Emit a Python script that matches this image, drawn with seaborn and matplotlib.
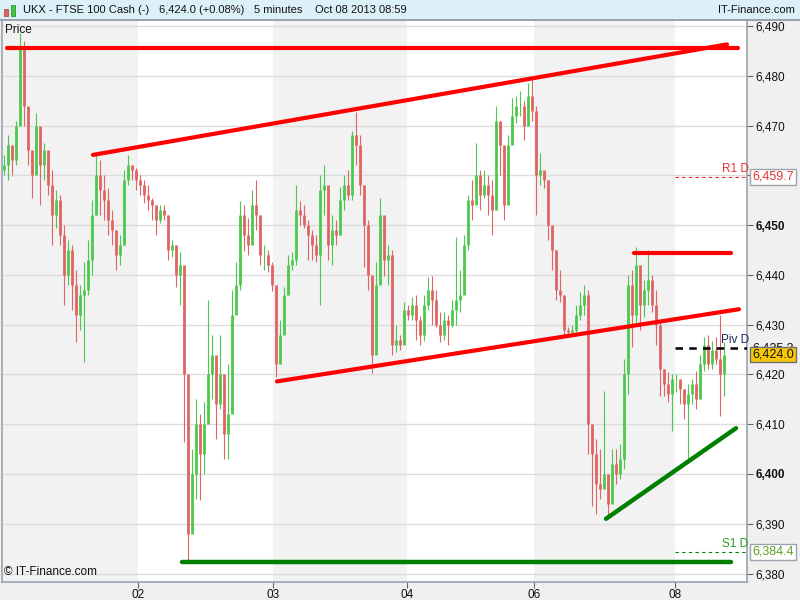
import pandas as pd
import seaborn as sns
import matplotlib.pyplot as plt
from matplotlib.patches import Rectangle

# 5-minute bars, values (roughly one bar per 4 px)
close = [6462, 6466, 6463, 6470, 6486, 6474, 6465, 6460, 6470, 6462,
         6465, 6458, 6452, 6455, 6448, 6440, 6445, 6438, 6432, 6436,
         6437, 6443, 6452, 6460, 6457, 6455, 6451, 6449, 6444, 6446,
         6459, 6462, 6461, 6459, 6458, 6456, 6455, 6454, 6451, 6453,
         6452, 6445, 6446, 6440, 6442, 6420, 6388, 6400, 6410, 6404,
         6410, 6420, 6424, 6414, 6420, 6408, 6412, 6432, 6438, 6452,
         6448, 6446, 6454, 6452, 6444, 6444, 6442, 6438, 6422, 6428,
         6436, 6442, 6443, 6453, 6452, 6450, 6448, 6446, 6444, 6457,
         6458, 6446, 6449, 6448, 6455, 6458, 6456, 6468, 6466, 6458,
         6450, 6440, 6424, 6438, 6452, 6443, 6444, 6426, 6427, 6426,
         6433, 6432, 6434, 6431, 6428, 6434, 6437, 6435, 6430, 6428,
         6431, 6430, 6433, 6435, 6436, 6446, 6455, 6454, 6460, 6456,
         6458, 6456, 6453, 6471, 6466, 6454, 6466, 6472, 6474, 6474,
         6470, 6476, 6473, 6460, 6461, 6459, 6450, 6445, 6437, 6436,
         6429, 6428.5, 6429, 6432, 6434, 6436, 6410, 6404, 6398, 6397,
         6400, 6394, 6402, 6400, 6403, 6420, 6438, 6432, 6442, 6434,
         6437, 6439, 6434, 6430, 6421, 6418, 6416, 6419, 6419, 6417,
         6414, 6416, 6418, 6415, 6422, 6426, 6422, 6425, 6423, 6420,
         6424]
high = [6464, 6468, 6466, 6471, 6488.5, 6487, 6471, 6464, 6472.5, 6466,
        6466.5, 6464, 6461, 6457, 6456, 6450, 6447, 6446, 6441, 6438,
        6442.5, 6447, 6455, 6464.5, 6463, 6460, 6457.5, 6453, 6449, 6448,
        6461, 6464, 6462, 6461.5, 6460, 6459, 6458, 6455.5, 6454, 6454,
        6454, 6452, 6447, 6444, 6444.5, 6437, 6408, 6405, 6415, 6412,
        6414.5, 6435, 6428, 6422, 6428, 6418, 6422, 6437, 6442.5, 6454.8,
        6454, 6451.5, 6457, 6459, 6452, 6446, 6445, 6442.5, 6436, 6431,
        6437.5, 6444, 6444.5, 6458, 6454.8, 6454, 6451, 6449, 6448, 6460,
        6462, 6455, 6452, 6451, 6457.6, 6460, 6461, 6469, 6472.7, 6468,
        6458, 6451, 6438, 6442.5, 6455.5, 6448, 6446, 6445, 6430, 6428,
        6434.5, 6434, 6435.5, 6436, 6431.8, 6436, 6439.5, 6439.7, 6437, 6432.5,
        6432.5, 6432, 6435, 6447.6, 6441, 6448, 6456, 6459, 6466.5, 6461,
        6461, 6460, 6459, 6474, 6471, 6462, 6468, 6475.6, 6476, 6477,
        6475, 6478.5, 6479.6, 6474, 6464.5, 6460.5, 6459, 6448, 6445, 6441,
        6436, 6429.6, 6430, 6434, 6436.5, 6438, 6437, 6410, 6407, 6405,
        6416.7, 6400, 6405, 6405, 6406, 6423, 6440, 6441, 6445.5, 6440,
        6439, 6445, 6440, 6437, 6431, 6421, 6420.5, 6420, 6420, 6419,
        6417, 6418, 6419, 6420.6, 6424, 6427.5, 6428, 6426.7, 6427.5, 6432,
        6426.5]
low = [6460, 6459, 6460, 6462, 6474, 6470, 6462, 6455.5, 6462, 6454,
       6459, 6456, 6446, 6449.5, 6446, 6434, 6438, 6433, 6426.5, 6429,
       6422.5, 6436, 6440, 6452, 6452, 6451, 6448, 6446, 6441, 6442,
       6446, 6458, 6459, 6457, 6456, 6454.5, 6453, 6451, 6448, 6450.5,
       6451, 6443, 6443.5, 6437.5, 6434, 6406.5, 6382.7, 6392, 6395, 6394.7,
       6400, 6412, 6415, 6407, 6413, 6403, 6403, 6422, 6434, 6437,
       6444.7, 6444, 6449, 6449, 6442, 6441, 6440.5, 6436.8, 6419.5, 6423,
       6430, 6436, 6441, 6442, 6450, 6449.5, 6443, 6443, 6442.5, 6434,
       6452, 6443, 6442, 6446, 6448, 6453, 6455, 6455, 6462, 6456,
       6441.5, 6437, 6420.3, 6428, 6440, 6439.7, 6438, 6423.9, 6424.6, 6425,
       6429, 6431, 6431, 6427, 6426, 6426.7, 6433, 6430, 6429.5, 6426.5,
       6427, 6426, 6429.6, 6430, 6432.5, 6440, 6445, 6451, 6456, 6453,
       6455.5, 6452, 6448, 6453, 6460, 6451, 6456, 6470, 6470.6, 6472,
       6467, 6472.7, 6471, 6452, 6458, 6457.5, 6447, 6441, 6435, 6434.5,
       6428, 6428, 6428, 6428.5, 6431, 6432, 6404, 6393.5, 6392, 6395,
       6398, 6391.5, 6396, 6398, 6399, 6401, 6416, 6425.5, 6430, 6429,
       6431.5, 6434, 6432.5, 6426, 6415.6, 6415.6, 6414.5, 6408.6, 6416.5, 6414,
       6411, 6403, 6414, 6413, 6415, 6420.6, 6421, 6421, 6422, 6411.6,
       6415.6]
first_open = 6461

day_labels = ["02", "03", "04", "06", "08"]
day_starts = [33.5, 67.25, 100.75, 132.5, 167.75]   # bar index where each day starts

# hand-drawn lines: (bar start, bar end, price start, price end)
red_top = [0.75, 183.5, 6485.5, 6485.5]
red_upper = [22.25, 180.75, 6464.1, 6486.3]
red_lower = [68.25, 183.75, 6418.6, 6433.1]
red_short = [157.5, 181.75, 6444.3, 6444.3]
green_bottom = [44.5, 181.75, 6382.3, 6382.3]
green_rising = [150.5, 183.0, 6391.0, 6409.2]

r1 = 6459.7
piv = 6425.3
s1 = 6384.4
last_price = 6424.0

sns.set_style("white")
plt.rcParams["font.family"] = ["Liberation Sans", "DejaVu Sans"]

df = pd.DataFrame({"close": close, "high": high, "low": low})
df["open"] = df["close"].shift(1).fillna(first_open)
df["bar"] = range(len(df))
up = df["close"] >= df["open"]

fig = plt.figure(figsize=(8, 6), dpi=100, facecolor="#f0f0f0")
ax = fig.add_axes([2 / 800, 18 / 600, 745 / 800, 562 / 600])
ax.set_facecolor("white")

# alternating day shading
ax.axvspan(-0.5, day_starts[0], color="#f2f2f2", zorder=0, lw=0)
ax.axvspan(day_starts[1], day_starts[2], color="#f2f2f2", zorder=0, lw=0)
ax.axvspan(day_starts[3], day_starts[4], color="#f2f2f2", zorder=0, lw=0)

green = "#4cc94c"
red = "#df6464"
for mask, col in [(up, green), (~up, red)]:
    d = df[mask]
    ax.vlines(d["bar"], d["low"], d["high"], color=col, lw=0.8, zorder=2)
    ax.vlines(d["bar"], d[["open", "close"]].min(axis=1),
              d[["open", "close"]].max(axis=1), color=col, lw=2.0, zorder=2)

def draw(line, color, lw):
    sns.lineplot(x=line[:2], y=line[2:], ax=ax, color=color, lw=lw, zorder=4)

draw(red_top, "#ff0000", 3)
draw(red_upper, "#ff0000", 3)
draw(red_lower, "#ff0000", 3)
draw(red_short, "#ff0000", 3)
draw(green_bottom, "#008000", 3.2)
draw(green_rising, "#008000", 3.2)

xmax = 185.75
ax.hlines(r1, day_starts[4], xmax, color="#ff2020", lw=0.8, ls=(0, (3, 3)), zorder=3)
ax.hlines(s1, day_starts[4], xmax, color="#008000", lw=0.8, ls=(0, (3, 3)), zorder=3)
ax.hlines(piv, day_starts[4], xmax, color="black", lw=1.8, ls=(0, (3, 2.5)), zorder=3)
ax.text(179.6, r1 + 0.4, "R1 D", color="#e83030", fontsize=8.5, va="bottom", zorder=5)
ax.text(179.6, s1 + 0.4, "S1 D", color="#2a9a2a", fontsize=8.5, va="bottom", zorder=5)
ax.text(179.3, piv + 0.4, "Piv D", color="#1c2a5a", fontsize=8.5, va="bottom", zorder=5)

ax.set_xlim(-0.5, xmax)
ax.set_ylim(6378.3, 6491.2)

ax.yaxis.tick_right()
ticks = list(range(6380, 6491, 10))
ax.set_yticks(ticks)
# the 6,460 label sits under the R1 price box
ax.set_yticklabels(["" if t == 6460 else f"{t:,}" for t in ticks])
for lab, t in zip(ax.get_yticklabels(), ticks):
    if t in (6400, 6450):
        lab.set_fontweight("bold")
ax.tick_params(axis="y", right=True, length=4, width=0.8, color="#666666",
               labelsize=8.5, pad=2, labelcolor="#111111")
ax.yaxis.grid(True, color="#dcdcdc", lw=1)
ax.set_axisbelow(True)

ax.set_xticks(day_starts)
ax.set_xticklabels(day_labels)
ax.tick_params(axis="x", bottom=True, length=4, width=0.8, color="#666666",
               labelsize=8.5, pad=1, labelcolor="#111111")

for side in ["left", "right", "bottom"]:
    ax.spines[side].set_color("#9aa4ae")
    ax.spines[side].set_linewidth(1.2)
ax.spines["top"].set_visible(False)

ax.text(0.004, 0.992, "Price", transform=ax.transAxes, fontsize=8.5, va="top", color="#111111")
ax.text(0.003, 0.008, "© IT-Finance.com", transform=ax.transAxes, fontsize=8.5,
        va="bottom", color="#111111")

# price labels on the right axis
box = dict(boxstyle="square,pad=0.15", fc="white", ec="#9aa4ae", lw=1)
ax.text(xmax + 1.3, r1, f"{r1:,.1f}", color="#e83030", fontsize=9, va="center",
        bbox=box, clip_on=False)
ax.text(xmax + 1.3, s1, f"{s1:,.1f}", color="#5aa020", fontsize=9, va="center",
        bbox=box, clip_on=False)
ax.text(xmax + 1.3, piv, f"{piv:,.1f}", color="#111111", fontsize=9, va="center",
        clip_on=False)
ax.text(xmax + 1.3, last_price, f"{last_price:,.1f}", color="#111111", fontsize=9,
        va="center", clip_on=False,
        bbox=dict(boxstyle="square,pad=0.15", fc="#f8c808", ec="#707070", lw=1))

# header bar
fig.patches.append(Rectangle((0, 580 / 600), 1, 20 / 600, transform=fig.transFigure,
                             fc="#dcf0f8", ec="none", zorder=0))
fig.patches.append(Rectangle((0, 579.5 / 600), 1, 1.2 / 600, transform=fig.transFigure,
                             fc="#9aa4ae", ec="none", zorder=1))
fig.patches.append(Rectangle((4 / 800, 584 / 600), 4 / 800, 7 / 600, transform=fig.transFigure,
                             fc="#e06060", ec="#a04040", lw=0.5))
fig.patches.append(Rectangle((11 / 800, 584 / 600), 4 / 800, 11 / 600, transform=fig.transFigure,
                             fc="#40c840", ec="#208020", lw=0.5))
hy = 590 / 600
fig.text(23 / 800, hy, "UKX - FTSE 100 Cash (-)", fontsize=8, va="center", color="#111111")
fig.text(159 / 800, hy, "6,424.0 (+0.08%)", fontsize=8, va="center", color="#111111")
fig.text(254 / 800, hy, "5 minutes", fontsize=8, va="center", color="#111111")
fig.text(315 / 800, hy, "Oct 08 2013 08:59", fontsize=8, va="center", color="#111111")
fig.text(795 / 800, hy, "IT-Finance.com", fontsize=8, va="center", ha="right", color="#111111")

fig.savefig("out.png", dpi=100, facecolor=fig.get_facecolor())
